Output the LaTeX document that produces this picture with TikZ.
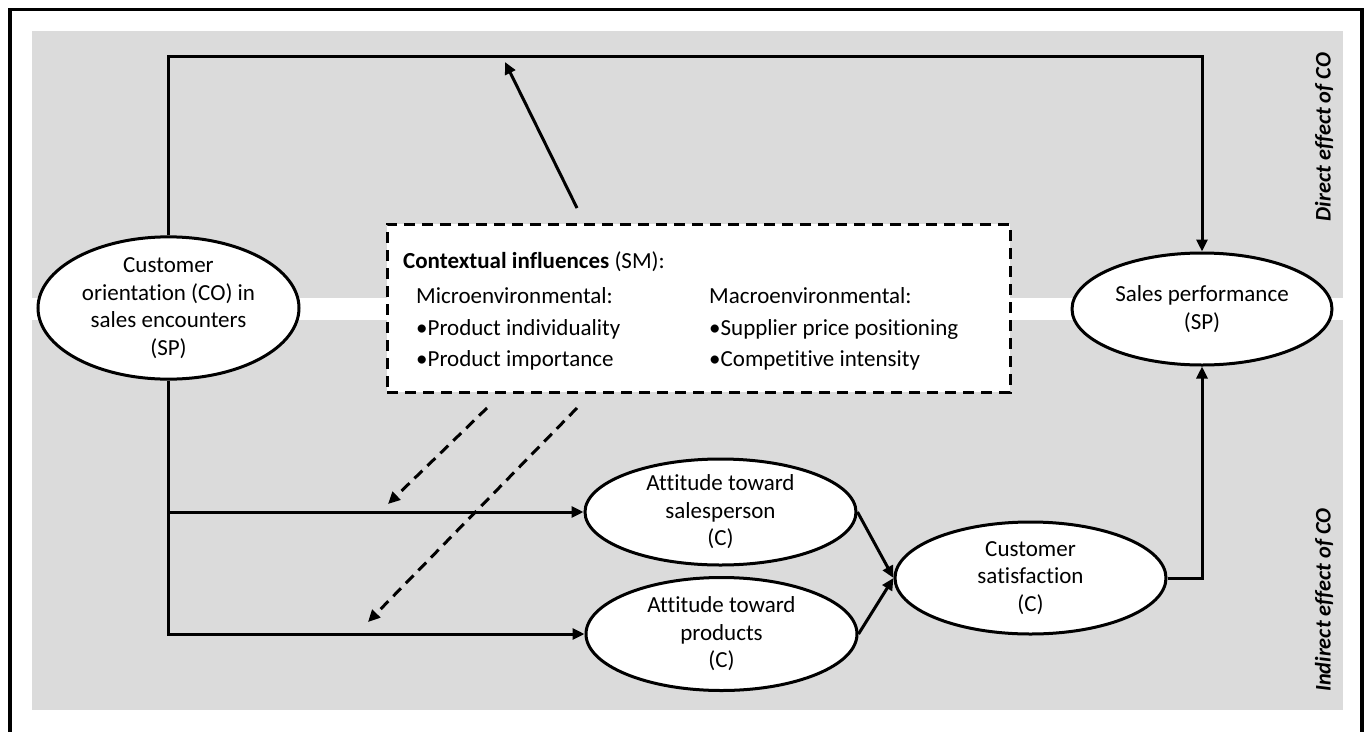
\documentclass[tikz,border=0pt]{standalone}
\usepackage{fontspec}
\setmainfont[Ligatures=NoCommon]{Carlito}
\usetikzlibrary{shapes.geometric,arrows.meta}
\begin{document}
\begin{tikzpicture}[x=1pt,y=-1pt,
  txt/.style={font=\fontsize{23}{27.5}\selectfont},
  oval/.style={ellipse, draw, line width=3pt, fill=white, inner sep=0pt, align=center, txt},
  conn/.style={line width=3pt, -{Triangle[length=12pt,width=11pt]}},
  dconn/.style={conn, dash pattern=on 11pt off 7pt},
  graybg/.style={fill=black!14, draw=none},
  side/.style={rotate=90, font=\fontsize{22.3}{26}\selectfont\bfseries\itshape}]
\useasboundingbox (0,0) rectangle (1368,731);
\fill[white] (0,0) rectangle (1368,731);
% background bands
\path[graybg] (32,31) rectangle (1343,298);
\path[graybg] (32,320) rectangle (1343,710);
% frame
\draw[line width=3.5pt] (10,760) -- (10,9.5) -- (1362,9.5) -- (1362,760);
% side labels
\node[side] (dlab) at (1324,137) {Direct effect of CO};
\node[side] (ilab) at (1324,600) {Indirect effect of CO};
% context box
\node[draw, fill=white, line width=3pt, dash pattern=on 11pt off 7pt,
      minimum width=623pt, minimum height=168pt, inner sep=0pt] (ctx) at (698.5,308) {};
\node[txt, anchor=base west, inner sep=0pt] (ct) at (403,268) {\textbf{Contextual influences} (SM):};
\node[txt, anchor=base west, inner sep=0pt] (mi) at (416,303) {Microenvironmental:};
\node[txt, anchor=base west, inner sep=0pt] (mi1) at (416,335) {•Product individuality};
\node[txt, anchor=base west, inner sep=0pt] (mi2) at (416,366) {•Product importance};
\node[txt, anchor=base west, inner sep=0pt] (ma) at (709,303) {Macroenvironmental:};
\node[txt, anchor=base west, inner sep=0pt] (ma1) at (709,335) {•Supplier price positioning};
\node[txt, anchor=base west, inner sep=0pt] (ma2) at (709,366) {•Competitive intensity};
% ellipses
\node[oval, minimum width=261pt, minimum height=122pt] (co) at (168.5,308) {Customer\\orientation (CO) in\\sales encounters\\(SP)};
\node[oval, minimum width=260pt, minimum height=112pt] (sp) at (1202,309) {Sales performance\\(SP)};
\node[oval, minimum width=271pt, minimum height=106pt] (as) at (720.5,512) {Attitude toward\\salesperson\\(C)};
\node[oval, minimum width=271pt, minimum height=113pt] (ap) at (721.5,634) {Attitude toward\\products\\(C)};
\node[oval, minimum width=271pt, minimum height=112pt] (cs) at (1030.5,578) {Customer\\satisfaction\\(C)};
% connectors
\draw[conn] (co.north) -- (co.north |- 0,56) -| (sp.north);
\draw[conn] (co.south) -- (co.south |- 0,512) -- (as.west);
\draw[conn] (co.south |- 0,510) -- (co.south |- 0,634) -- (ap.west);
\draw[conn] (as.east) -- (cs.west);
\draw[conn] (ap.east) -- (cs.west);
\draw[conn] (cs.east) -| (sp.south);
% moderation arrows
\coordinate (m0s) at (577,208);
\coordinate (m0e) at (505,62);
\draw[conn] (m0s) -- (m0e);
\coordinate (m1s) at (487,408);
\coordinate (m1e) at (388,504);
\draw[dconn] (m1s) -- (m1e);
\coordinate (m2s) at (577,408);
\coordinate (m2e) at (368,622);
\draw[dconn] (m2s) -- (m2e);
\end{tikzpicture}
\end{document}
